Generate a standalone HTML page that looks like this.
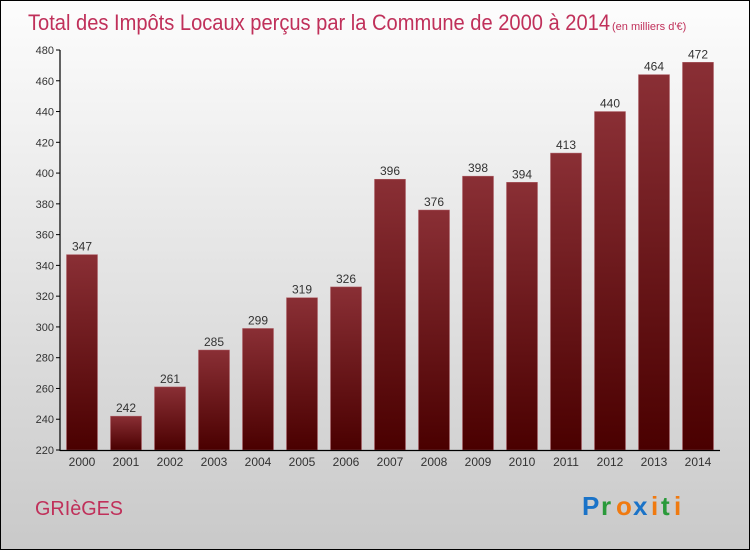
<!DOCTYPE html>
<html><head><meta charset="utf-8"><style>
body{margin:0;width:750px;height:550px;overflow:hidden;font-family:"Liberation Sans",sans-serif}
#wrap{position:absolute;left:0;top:0;width:748px;height:548px;border:1px solid #000;background:linear-gradient(#fdfdfd,#dedede 60%,#c9c9c9)}
</style></head><body>
<div id="wrap">
<svg width="750" height="550" style="position:absolute;left:-1px;top:-1px">
<defs><linearGradient id="bg" x1="0" y1="0" x2="0" y2="1"><stop offset="0" stop-color="#8a2f35"/><stop offset="1" stop-color="#4a0000"/></linearGradient></defs>
<text x="28" y="30" font-size="22" fill="#c0305a" textLength="582" lengthAdjust="spacingAndGlyphs">Total des Impôts Locaux perçus par la Commune de 2000 à 2014</text>
<text x="612" y="30" font-size="11" fill="#c0305a">(en milliers d'€)</text>
<g id="g"></g>
<text x="35" y="515" font-size="20" fill="#c0305a" textLength="88" lengthAdjust="spacingAndGlyphs">GRIèGES</text>
<g font-size="26" font-weight="bold" font-family="Liberation Sans,sans-serif">
<text x="582" y="515" fill="#1a73c8">P</text><text x="601" y="515" fill="#2a9a3a">r</text><text x="616" y="515" fill="#f07a10">o</text><text x="633" y="515" fill="#1a73c8">x</text><text x="651" y="515" fill="#f07a10">i</text><text x="661" y="515" fill="#2a9a3a">t</text><text x="674" y="515" fill="#f07a10">i</text></g>
</svg></div>
<script>
const years=["2000","2001","2002","2003","2004","2005","2006","2007","2008","2009","2010","2011","2012","2013","2014"];
const values=[347,242,261,285,299,319,326,396,376,398,394,413,440,464,472];
const yTicks=[220,240,260,280,300,320,340,360,380,400,420,440,460,480];
const NS="http://www.w3.org/2000/svg",g=document.getElementById('g');
const y=v=>450-(v-220)*400/260, x=i=>82+i*44;
function mk(t,a,txt){const e=document.createElementNS(NS,t);for(const k in a)e.setAttribute(k,a[k]);if(txt!=null)e.textContent=txt;g.appendChild(e);return e;}
yTicks.forEach(t=>{const l=mk('line',{x1:56,x2:60,y1:y(t),y2:y(t),stroke:'#000'});


const tx=mk('text',{x:54,y:y(t)+4,'font-size':11,fill:'#333','text-anchor':'end'},t);

});
values.forEach((v,i)=>{const r=mk('rect',{x:x(i)-15.5,y:y(v),width:31,height:450-y(v),fill:'url(#bg)',stroke:'#b06068','stroke-width':0.5});


const l=mk('text',{x:x(i),y:y(v)-4,'font-size':12,fill:'#333','text-anchor':'middle'},v);


const yl=mk('text',{x:x(i),y:466,'font-size':12,fill:'#333','text-anchor':'middle'},years[i]);

});
const ya=mk('line',{x1:60,x2:60,y1:50,y2:451,stroke:'#000','stroke-width':1.2});


const xa=mk('line',{x1:60,x2:720,y1:450.5,y2:450.5,stroke:'#000','stroke-width':1.2});


</script>
</body></html>
